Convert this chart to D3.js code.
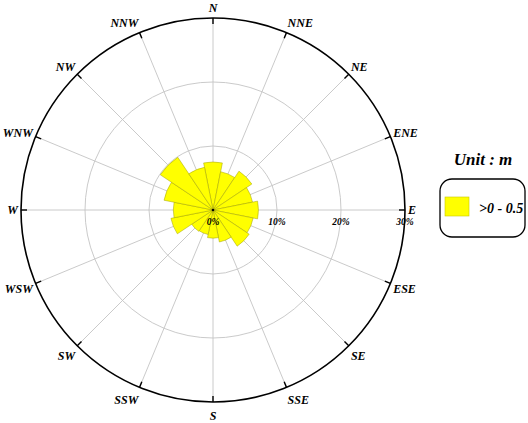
<!DOCTYPE html>
<html>
<head>
<meta charset="utf-8">
<script src="https://cdn.jsdelivr.net/npm/d3@7"></script>
<style>
  body { margin: 0; background: #fff; }
  svg { display: block; }
</style>
</head>
<body>
<svg id="chart" width="528" height="423"></svg>
<script>
// wind rose data, % frequency for class >0 - 0.5 m
const directions = ["N", "NNE", "NE", "ENE", "E", "ESE", "SE", "SSE",
  "S", "SSW", "SW", "WSW", "W", "WNW", "NW", "NNW"];
const freq = [7.5, 6.1, 7.3, 6.3, 7.1, 6.4, 6.8, 5.1,
  4.4, 3.9, 4.0, 6.7, 6.2, 7.8, 9.9, 6.8];
const ringTicks = [10, 20, 30];
const pctLabels = ["0%", "10%", "20%", "30%"];
const legendTitle = "Unit : m";
const legendItems = [">0 - 0.5"];

const cx = 213, cy = 210;
const outerR = 192;
const serif = "'Liberation Serif', 'Times New Roman', serif";
const axisGray = "#c4c4c4";

const svg = d3.select("#chart");
const g = svg.append("g").attr("transform", `translate(${cx},${cy})`);

const r = d3.scaleLinear().domain([0, 30]).range([0, outerR]);
const ang = d3.scaleBand().domain(directions).range([0, 2 * Math.PI]);
const step = ang.bandwidth();
const centerAngle = d => ang(d); // band start = direction itself

const polar = (a, rad) => [rad * Math.sin(a), -rad * Math.cos(a)];

// grid rings
g.selectAll("circle.ring")
  .data(ringTicks.slice(0, -1))
  .join("circle")
  .attr("class", "ring")
  .attr("r", d => r(d))
  .attr("fill", "none")
  .attr("stroke", axisGray)
  .attr("stroke-width", 0.9);

// spokes
g.selectAll("line.spoke")
  .data(directions)
  .join("line")
  .attr("class", "spoke")
  .attr("x1", 0).attr("y1", 0)
  .attr("x2", d => polar(centerAngle(d), outerR)[0])
  .attr("y2", d => polar(centerAngle(d), outerR)[1])
  .attr("stroke", axisGray)
  .attr("stroke-width", 0.9);

// wedges
const arc = d3.arc()
  .innerRadius(0)
  .outerRadius(d => r(d.v))
  .startAngle(d => centerAngle(d.dir) - step / 2)
  .endAngle(d => centerAngle(d.dir) + step / 2);

g.selectAll("path.wedge")
  .data(directions.map((dir, i) => ({ dir, v: freq[i] })))
  .join("path")
  .attr("class", "wedge")
  .attr("d", arc)
  .attr("fill", "#ffff00")
  .attr("stroke", "#a0a000")
  .attr("stroke-width", 0.5);

// outer circle
g.append("circle")
  .attr("r", outerR)
  .attr("fill", "none")
  .attr("stroke", "#000")
  .attr("stroke-width", 1.6);

// inward ticks on outer circle
g.selectAll("line.tick")
  .data(directions)
  .join("line")
  .attr("class", "tick")
  .attr("x1", d => polar(centerAngle(d), outerR)[0])
  .attr("y1", d => polar(centerAngle(d), outerR)[1])
  .attr("x2", d => polar(centerAngle(d), outerR - 6)[0])
  .attr("y2", d => polar(centerAngle(d), outerR - 6)[1])
  .attr("stroke", "#000")
  .attr("stroke-width", 1.4);

// center dot
g.append("circle").attr("r", 1.3).attr("fill", "#000");

// direction labels: hang off the tick point, outside the circle
const labelInfo = d => {
  const a = centerAngle(d);
  const p = polar(a, outerR + 3);
  const c = Math.cos(a), s = Math.sin(a);
  const y = p[1] - c * (c > 0 ? 7 : 11);
  const anchor = s > 0.2 ? "start" : s < -0.2 ? "end" : "middle";
  return { x: p[0], y, anchor };
};

g.selectAll("text.dir")
  .data(directions)
  .join("text")
  .attr("class", "dir")
  .attr("x", d => labelInfo(d).x)
  .attr("y", d => labelInfo(d).y)
  .attr("text-anchor", d => labelInfo(d).anchor)
  .attr("dominant-baseline", "central")
  .attr("font-family", serif)
  .attr("font-style", "italic")
  .attr("font-weight", "bold")
  .attr("font-size", 12)
  .text(d => d);

// percent labels along E axis
g.selectAll("text.pct")
  .data(pctLabels)
  .join("text")
  .attr("class", "pct")
  .attr("x", (d, i) => r(i * 10))
  .attr("y", 15)
  .attr("text-anchor", "middle")
  .attr("font-family", serif)
  .attr("font-style", "italic")
  .attr("font-weight", "bold")
  .attr("font-size", 9.5)
  .text(d => d);

// legend
const lg = svg.append("g").attr("transform", "translate(440,179)");
svg.append("text")
  .attr("x", 483)
  .attr("y", 165)
  .attr("text-anchor", "middle")
  .attr("font-family", serif)
  .attr("font-style", "italic")
  .attr("font-weight", "bold")
  .attr("font-size", 17)
  .text(legendTitle);

lg.append("rect")
  .attr("width", 85).attr("height", 58)
  .attr("rx", 12).attr("ry", 12)
  .attr("fill", "#fff")
  .attr("stroke", "#000")
  .attr("stroke-width", 1.3);

legendItems.forEach((t, i) => {
  lg.append("rect")
    .attr("x", 5).attr("y", 18 + i * 22)
    .attr("width", 24).attr("height", 19)
    .attr("fill", "#ffff00")
    .attr("stroke", "#c8c800")
    .attr("stroke-width", 0.6);
  lg.append("text")
    .attr("x", 39).attr("y", 34 + i * 22)
    .attr("font-family", serif)
    .attr("font-style", "italic")
    .attr("font-weight", "bold")
    .attr("font-size", 14)
    .text(t);
});
</script>
</body>
</html>
